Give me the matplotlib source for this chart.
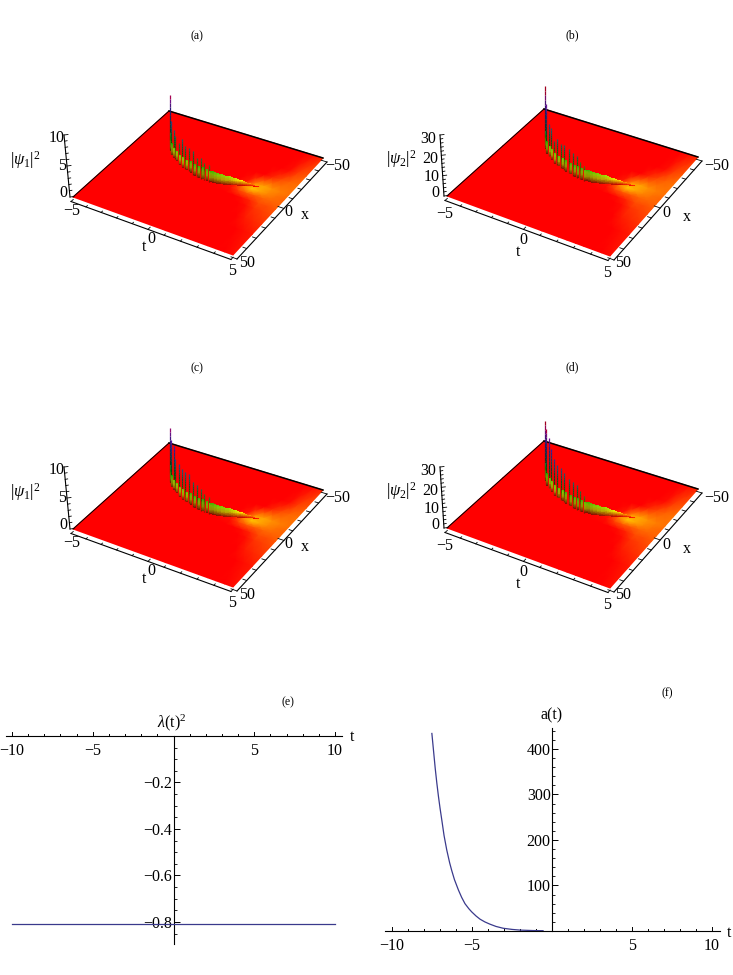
import numpy as np
import matplotlib
matplotlib.use("Agg")
import matplotlib.pyplot as plt
from matplotlib.collections import LineCollection
from matplotlib.colors import LinearSegmentedColormap
from matplotlib.ticker import MultipleLocator, FixedLocator, FixedFormatter

plt.rcParams['font.family'] = ['Liberation Serif', 'DejaVu Serif']
plt.rcParams['mathtext.fontset'] = 'custom'
plt.rcParams['mathtext.rm'] = 'Liberation Serif'
plt.rcParams['mathtext.it'] = 'Liberation Serif:italic'
plt.rcParams['mathtext.bf'] = 'Liberation Serif:bold'

# ---------- surface data ----------
glow_t = [-5, 1, 2, 2.5, 3, 3.5, 4, 4.5, 5]
glow_x = [-50, -30, -20, -10, -5, 0, 5, 10, 20, 30, 50]
glow_v = [
    [0, 0, 0, 0, 0, 0, 0, 0, 0, 0, 0],
    [0, 0, 0, 0, 0, 0, 0, 0, 0, 0, 0],
    [0, 0, 0, .003, .01, .005, 0, 0, 0, 0, 0],
    [0, 0, 0, .01, .04, .02, .003, 0, 0, 0, 0],
    [0, 0, .003, .05, .075, .03, .007, 0, 0, 0, 0],
    [0, 0, .012, .06, .06, .03, .015, .007, .002, 0, 0],
    [0, .006, .025, .05, .045, .032, .024, .016, .008, .003, 0],
    [.006, .02, .035, .042, .038, .032, .026, .02, .013, .007, .002],
    [.015, .03, .036, .037, .035, .032, .028, .024, .017, .011, .005],
]

# comb of tall spikes along the ridge
spike_t = [-2.88, -2.54, -2.23, -2.06, -1.63, -1.34, -1.04, -.78, -.39, -.07, .19, .43, .71]
spike_x = [-16.3, -12.3, -10.1, -9.1, -5.6, -4.5, -3.1, -2.5, -.8, .2, .5, .9, 1.2]
spike_a = [9.3, 5.7, 4.6, 4.0, 3.7, 4.7, 4.0, 4.0, 4.0, 3.3, 3.6, 3.0, 3.0]
spike_b = [31.5, 24.6, 16.5, 15.0, 11.4, 13.5, 12.6, 12.6, 12.6, 12.0, 11.4, 9.0, 7.8]
spike_c = [9.0, 7.8, 7.5, 5.5, 5.5, 5.0, 5.0, 5.0, 4.2, 4.2, 3.8, 3.2, 3.0]
spike_d = [30.0, 28.5, 25.5, 21.0, 18.6, 16.5, 16.5, 15.0, 13.5, 13.5, 12.6, 10.5, 9.0]

# lower continuous body of the ridge, as a fraction of the z range
body_t = [-2.7, -2.4, -2.15, -1.85, -1.5, -1.2, -.9, -.6, -.25, .05, .3, .55, .75,
          .85, .95, 1.05, 1.15, 1.25, 1.35, 1.45, 1.55, 1.65, 1.75, 1.85, 1.95, 2.05, 2.15, 2.25,
          2.35, 2.45, 2.55, 2.65, 2.75, 2.85, 2.95, 3.05, 3.15, 3.25]
body_x = [-15, -11, -9.5, -7.5, -5, -3.8, -2.8, -1.6, -.5, .1, .5, .7, .8,
          .5, .5, .3, .1, -.2, -.5, -.8, -1.1, -1.4, -1.8, -2.2, -2.7, -3.2, -3.6, -4.1,
          -4.6, -5.1, -5.6, -6.0, -6.4, -6.8, -7.2, -7.5, -7.8, -8.2]
body_v = [.30, .22, .18, .18, .18, .18, .18, .20, .20, .20, .21, .20, .19,
          .20, .20, .19, .19, .18, .18, .17, .17, .16, .16, .15, .14, .13, .12, .11,
          .10, .09, .08, .07, .06, .05, .04, .03, .02, .012]

# ---------- line plots ----------
lam_t = [-10, 10]
lam_v = [-0.81, -0.81]
a_t = [-7.51, -7.3, -7.2, -7.1, -7.0, -6.89, -6.75, -6.58, -6.4, -6.27, -6.1, -5.85, -5.65, -5.44,
       -5.2, -5.02, -4.75, -4.5, -4.2, -3.88, -3.5, -3.05, -2.5, -2.01, -1.2, -0.56]
a_v = [434, 357, 325, 296, 270, 244, 210, 178, 150, 133, 113, 90, 74, 60,
       49, 42, 33, 26, 20, 15, 10, 6, 3.5, 2, 1, 0.7]

e_xticks = [-10, -5, 5, 10]
e_xlabels = ['−10', '−5', '5', '10']
e_yticks = [-0.8, -0.6, -0.4, -0.2]
e_ylabels = ['−0.8', '−0.6', '−0.4', '−0.2']
f_xticks = [-10, -5, 5, 10]
f_xlabels = ['−10', '−5', '5', '10']
f_yticks = [100, 200, 300, 400]
f_ylabels = ['100', '200', '300', '400']

# ---------- appearance ----------
W, H = 733, 975
fig = plt.figure(figsize=(W / 100, H / 100), dpi=100, facecolor='white')
ov = fig.add_axes([0, 0, 1, 1])
ov.set_xlim(0, W)
ov.set_ylim(H, 0)
ov.axis('off')

hue = LinearSegmentedColormap.from_list('hue', [
    (0.00, '#ff0000'), (0.04, '#ff8000'), (0.09, '#ffe800'), (0.15, '#a0e000'), (0.22, '#20a000'),
    (0.35, '#107040'), (0.45, '#106868'), (0.55, '#204880'), (0.70, '#3020a0'), (0.87, '#801090'),
    (0.95, '#b00040'), (1.00, '#a00020')])

PX_PER_Z = 58.0


def make_projection(back, right, front, left):
    src = [(0, 0), (1, 0), (1, 1), (0, 1)]
    dst = [back, right, front, left]
    A, b = [], []
    for (u, v), (p, q) in zip(src, dst):
        A.append([u, v, 1, 0, 0, 0, -u * p, -v * p]); b.append(p)
        A.append([0, 0, 0, u, v, 1, -u * q, -v * q]); b.append(q)
    h = np.linalg.solve(np.array(A, float), np.array(b, float))

    def project(t, x, v=0.0):
        u = (np.asarray(t, float) + 5) / 10
        w = (np.asarray(x, float) + 50) / 100
        d = h[6] * u + h[7] * w + 1
        px = (h[0] * u + h[1] * w + h[2]) / d
        py = (h[3] * u + h[4] * w + h[5]) / d
        return px, py - np.asarray(v, float) * PX_PER_Z
    return project


def draw_column(project, t, x, v, lw, levels=14):
    segs, cols = [], []
    steps = np.linspace(0, 1, levels)
    low = float(np.clip(1.05 - 2.8 * v, 0.42, 1.0))
    for ft0, ft1 in zip(steps[:-1], steps[1:]):
        p0 = project(t, x, v * ft0)
        p1 = project(t, x, v * ft1)
        segs.append([(float(p0[0]), float(p0[1])), (float(p1[0]), float(p1[1]))])
        c = np.array(hue(float(min(v * ft1, 1.0)))[:3])
        shade = low + (1 - low) * ft1 ** 2
        cols.append(tuple(c * shade))
    ov.add_collection(LineCollection(segs, colors=cols, linewidths=lw, zorder=4, capstyle='butt'))


def panel(corners, zref, zmajor, zminor, spikes, lab, ztop):
    back, right, front, left = corners
    project = make_projection(back, right, front, left)
    T, X = np.meshgrid(glow_t, glow_x, indexing='ij')
    PX, PY = project(T, X)
    ov.pcolormesh(PX, PY, np.array(glow_v), cmap=hue, vmin=0, vmax=1, shading='gouraud', zorder=2)
    ov.plot([back[0], right[0]], [back[1], right[1]], color='k', lw=1.1, zorder=3)
    ov.plot([back[0], left[0]], [back[1], left[1]], color='k', lw=0.7, zorder=3)
    items = [(bt, bx, bv, 1.5) for bt, bx, bv in zip(body_t, body_x, body_v)]
    items += [(st, sx, min(sz / zref, 1.06), 0.9) for st, sx, sz in zip(spike_t, spike_x, spikes)]
    for it in sorted(items, key=lambda i: i[0]):
        draw_column(project, it[0], it[1], it[2], it[3])
    off_t = np.array([-2.0, 4.5])
    a0, a1 = np.array(left) + off_t, np.array(front) + off_t
    ov.plot([a0[0], a1[0]], [a0[1], a1[1]], color='k', lw=0.8, zorder=3)
    for tv in np.arange(-5, 6):
        px, py = project(tv, 50)
        L = 0.022 if tv % 5 == 0 else 0.014
        qx, qy = project(tv, 50 - L * 100)
        ov.plot([px + off_t[0], qx + off_t[0]], [py + off_t[1], qy + off_t[1]], color='k', lw=0.6, zorder=3)
    off_x = np.array([4.0, 4.0])
    a0, a1 = np.array(front) + off_x, np.array(right) + off_x
    ov.plot([a0[0], a1[0]], [a0[1], a1[1]], color='k', lw=0.8, zorder=3)
    for xv in np.arange(-50, 51, 10):
        px, py = project(5, xv)
        L = 0.35 if xv % 50 == 0 else 0.22
        qx, qy = project(5 - L, xv)
        ov.plot([px + off_x[0], qx + off_x[0]], [py + off_x[1], qy + off_x[1]], color='k', lw=0.6, zorder=3)
    z0 = np.array(left) + np.array([-3.0, 0.0])
    z1 = np.array(ztop)
    ov.plot([z0[0], z1[0]], [z0[1], z1[1]], color='k', lw=0.8, zorder=3)
    for zv in np.arange(0, zref + 1e-6, zminor):
        p = z0 + (z1 - z0) * zv / zref
        L = 4 if abs(zv % zmajor) < 1e-6 else 2.5
        ov.plot([p[0], p[0] + L], [p[1], p[1] - 0.5], color='k', lw=0.6, zorder=3)
    for txt, x, y, size in lab:
        ov.text(x, y, txt, ha='center', va='center', fontsize=size, zorder=6)


S = 11.5
labels_a = [(r'$|\psi_1|^2$', 25, 160, 12), ('10', 56.7, 138.3, S), ('5', 61.7, 166, S), ('0', 63.3, 192.7, S),
            ('−5', 71.7, 211, S), ('0', 151, 239, S), ('t', 144, 247, S), ('5', 231.7, 271, S),
            ('50', 246.7, 262.7, S), ('0', 288, 211.7, S), ('x', 305, 215, S), ('−50', 338, 166, S)]
labels_b = [(r'$|\psi_2|^2$', 401, 159, 12), ('30', 428, 139, S), ('20', 430, 159, S), ('10', 432, 177, S),
            ('0', 435, 193, S), ('−5', 445, 214, S), ('0', 523, 240, S), ('t', 518, 252, S), ('5', 607, 273, S),
            ('50', 623, 263, S), ('0', 666, 213, S), ('x', 687, 217, S), ('−50', 717, 166, S)]


def shifted(lab, dy):
    return [(t, x, y + dy, s) for t, x, y, s in lab]


DY = 332
corners_a = [(169, 111), (323, 158), (233, 255), (73, 197)]
corners_b = [(544, 109), (698, 157), (610, 256), (447, 196)]


def sh(c):
    return [(x, y + DY) for x, y in c]


panel(corners_a, 10, 5, 1, spike_a, labels_a, (64, 135))
panel(corners_b, 30, 10, 2, spike_b, labels_b, (440, 135))
panel(sh(corners_a), 10, 5, 1, spike_c, shifted(labels_a, DY), (64, 135 + DY))
panel(sh(corners_b), 30, 10, 2, spike_d, shifted(labels_b, DY), (440, 135 + DY))

for txt, x, y in [('(a)', 197, 36), ('(b)', 572, 35), ('(c)', 197, 368), ('(d)', 572, 367), ('(e)', 288, 702), ('(f)', 667, 693)]:
    ov.text(x, y, txt, ha='center', va='center', fontsize=8.5)


def rect(x0, x1, ytop, ybot):
    return [x0 / W, 1 - ybot / H, (x1 - x0) / W, (ybot - ytop) / H]


def line_axes(pos, xlim, ylim, xt, xl, yt, yl, yminor, xpad):
    ax = fig.add_axes(pos, facecolor='none')
    ax.set_xlim(*xlim)
    ax.set_ylim(*ylim)
    for s in ('top', 'right'):
        ax.spines[s].set_visible(False)
    ax.spines['left'].set_position(('data', 0))
    ax.spines['bottom'].set_position(('data', 0))
    for s in ('left', 'bottom'):
        ax.spines[s].set_linewidth(0.8)
    ax.xaxis.set_major_locator(FixedLocator(xt))
    ax.xaxis.set_major_formatter(FixedFormatter(xl))
    ax.yaxis.set_major_locator(FixedLocator(yt))
    ax.yaxis.set_major_formatter(FixedFormatter(yl))
    ax.xaxis.set_minor_locator(MultipleLocator(1))
    ax.yaxis.set_minor_locator(MultipleLocator(yminor))
    ax.tick_params(axis='x', which='major', length=0, labelsize=S, pad=xpad)
    ax.tick_params(axis='y', which='major', direction='in', length=4, width=0.7, labelsize=S, pad=1)
    ax.tick_params(axis='x', which='minor', length=0)
    ax.tick_params(axis='y', which='minor', direction='in', length=2.2, width=0.6)
    span = ylim[1] - ylim[0]
    h = ax.get_position().height * H
    for tv in np.arange(-10, 11):
        if tv == 0:
            continue
        L = (4.0 if tv % 5 == 0 else 2.4) / h * span
        ax.plot([tv, tv], [0, L], color='k', lw=0.7, clip_on=False)
    return ax


e = line_axes(rect(6, 342, 736, 944), (-10.37, 10.43), (-0.895, 0.0), e_xticks, e_xlabels,
              e_yticks, e_ylabels, 0.05, 5)
e.plot(lam_t, lam_v, color='#3a3a8c', lw=0.9, zorder=5)
ov.text(172, 723, r'$\lambda$(t)$^2$', ha='center', va='center', fontsize=S)
ov.text(352, 737, 't', ha='center', va='center', fontsize=S)

f = line_axes(rect(385, 720, 728, 931), (-10.44, 10.5), (0, 446), f_xticks, f_xlabels,
              f_yticks, f_ylabels, 20, 5)
f.plot(a_t, a_v, color='#3a3a8c', lw=0.9, zorder=5)
ov.text(552, 715, 'a(t)', ha='center', va='center', fontsize=S)
ov.text(729, 933, 't', ha='center', va='center', fontsize=S)

fig.savefig('out.png', dpi=100, facecolor='white')
